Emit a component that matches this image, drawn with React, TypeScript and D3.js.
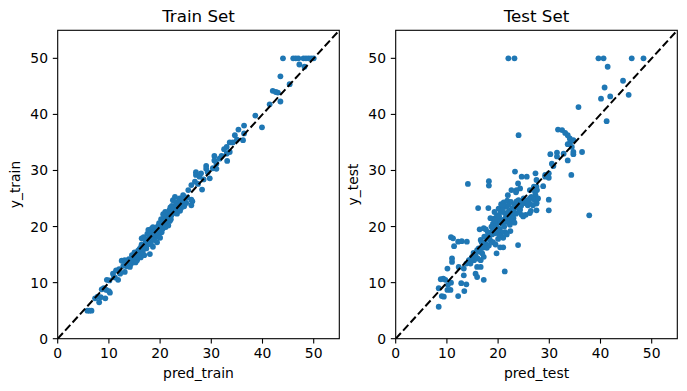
import React from 'react'
import * as d3 from 'd3'

const trainPoints: [number, number][] = [
  [5.8, 5.0], [6.2, 5.0], [6.6, 5.0], [7.3, 7.2], [7.8, 7.5], [8.1, 6.5], [8.4, 7.4], [9.3, 7.2],
  [8.6, 8.8], [9.0, 9.0], [9.5, 8.7], [10.2, 8.2], [10.0, 8.5], [9.6, 10.5], [10.1, 10.4],
  [10.8, 11.6], [11.2, 10.9], [11.8, 10.5], [11.4, 12.2], [12.0, 12.4], [11.0, 11.0],
  [12.5, 13.9], [13.1, 14.0], [13.1, 11.9], [13.7, 13.3], [14.1, 12.8], [14.3, 13.3], [14.6, 13.7],
  [14.0, 13.5], [14.8, 14.4], [15.0, 15.4], [15.3, 15.0], [15.5, 14.0], [15.8, 14.5], [16.2, 14.5],
  [16.4, 14.8], [16.0, 16.0], [16.4, 16.8], [16.4, 17.9], [16.8, 18.1], [15.2, 13.6], [14.5, 14.9],
  [13.5, 12.9], [12.8, 13.0], [15.7, 15.7], [16.6, 15.6], [17.0, 16.6], [17.2, 17.2], [16.9, 14.9],
  [17.5, 18.7], [17.7, 19.4], [18.3, 19.6], [18.6, 16.4], [18.0, 15.1], [17.8, 17.3], [18.1, 17.8],
  [18.4, 18.4], [18.8, 18.9], [18.6, 19.9], [19.0, 19.1], [19.2, 19.6], [19.5, 20.0], [19.2, 18.2],
  [19.6, 18.6], [19.9, 19.5], [20.1, 20.2], [20.3, 19.0], [20.5, 19.6], [20.2, 21.3], [20.7, 21.2],
  [20.9, 20.5], [21.1, 19.9], [20.0, 18.0], [19.4, 17.2], [18.9, 17.6], [17.3, 16.1], [18.2, 16.9],
  [21.3, 20.8], [21.5, 21.8], [21.6, 20.2], [20.6, 22.2], [21.0, 22.6], [21.4, 22.0],
  [21.8, 22.9], [22.0, 23.4], [22.3, 23.7], [22.2, 22.0], [22.6, 22.4], [22.9, 23.1], [22.5, 24.7],
  [22.9, 25.3], [23.2, 23.9], [23.5, 24.4], [23.8, 25.0], [24.2, 24.1], [23.9, 22.8], [23.3, 22.3],
  [24.5, 25.6], [24.8, 24.9], [24.1, 23.3], [24.7, 23.6], [25.1, 24.2], [25.5, 26.5], [26.1, 24.8],
  [26.3, 24.5], [26.1, 23.8], [25.3, 25.2], [22.1, 21.3], [21.9, 21.0],
  [12.2, 11.6], [13.4, 13.7], [13.9, 14.2], [14.4, 14.0], [14.9, 13.8], [15.4, 14.6], [15.9, 15.1],
  [16.1, 15.4], [16.7, 16.2], [17.4, 17.6], [17.6, 16.8], [17.9, 18.3], [18.2, 18.9], [18.5, 17.9],
  [18.7, 18.5], [19.1, 18.6], [19.3, 19.2], [19.7, 19.3], [19.8, 20.6], [20.4, 20.4], [20.6, 20.0],
  [20.8, 21.7], [21.2, 21.3], [21.7, 21.5], [22.0, 22.2], [22.4, 22.9], [22.7, 23.5], [23.0, 22.6],
  [23.4, 23.3], [23.7, 23.8], [24.0, 24.6], [24.4, 24.8], [16.3, 16.4], [15.1, 14.9], [14.2, 13.9],
  [17.1, 17.7], [19.5, 18.9], [21.0, 20.9], [23.1, 24.3], [24.6, 24.3],
  [26.1, 27.4], [26.8, 28.0], [27.0, 29.2], [27.0, 29.7], [27.7, 28.9], [28.0, 29.5], [28.2, 26.6],
  [27.4, 27.6], [28.5, 28.4], [29.0, 30.8], [29.0, 30.3], [29.7, 28.6], [29.3, 29.7], [30.6, 32.6],
  [30.6, 31.8], [31.0, 31.2], [31.0, 30.3], [31.6, 32.1], [30.3, 30.4], [32.0, 32.6], [33.0, 34.2],
  [33.6, 35.0], [34.2, 35.0], [33.6, 33.3], [33.0, 33.0], [33.1, 31.7], [32.5, 33.8], [34.6, 36.3],
  [35.3, 37.3], [36.4, 36.6], [36.2, 35.4], [36.4, 38.0], [35.0, 35.5],
  [38.6, 39.8], [39.9, 37.7], [41.4, 41.8], [42.0, 44.2], [42.6, 44.0], [43.5, 42.3], [43.5, 46.8],
  [45.3, 45.4], [44.0, 50], [46.0, 50], [46.5, 50], [47.0, 50], [48.0, 50], [48.5, 50], [49.0, 50],
  [49.5, 50], [50.0, 50], [47.2, 48.9], [48.2, 48.5], [43.0, 43.9],
]

const testPoints: [number, number][] = [
  [22.0, 50], [23.2, 50], [39.6, 50], [40.6, 50], [41.4, 48.5], [46.1, 50], [48.4, 50],
  [44.4, 46.0], [40.8, 44.8], [40.1, 42.8], [41.9, 43.2], [45.5, 43.5], [41.2, 38.8], [35.7, 41.3],
  [24.0, 36.3], [31.7, 37.3], [32.5, 37.2], [33.1, 36.7], [33.6, 36.3], [34.0, 35.7], [34.1, 35.1],
  [33.6, 34.7], [34.7, 35.4], [34.4, 34.2], [31.5, 33.2], [31.5, 32.5], [30.2, 32.9], [32.8, 33.0],
  [34.7, 32.9], [34.7, 33.3], [33.6, 31.8], [36.4, 33.3], [34.3, 29.2], [30.5, 31.2], [30.8, 30.8],
  [29.9, 29.5], [29.2, 28.9], [29.9, 28.7], [28.8, 27.2], [27.5, 28.3], [27.3, 29.5], [23.3, 29.8],
  [24.6, 28.9], [25.6, 28.9], [23.9, 27.7], [24.3, 26.8], [23.6, 26.5], [26.2, 26.5], [27.2, 26.2],
  [27.5, 27.1], [29.2, 29.2], [26.2, 22.4], [27.5, 22.9], [27.5, 24.1], [26.2, 24.1],
  [27.0, 27.1], [27.6, 26.5],
  [27.3, 25.6], [29.9, 24.8], [29.9, 22.9], [37.8, 22.0], [14.1, 27.6], [18.2, 28.1], [18.2, 27.3],
  [16.1, 23.3], [18.1, 23.3], [10.8, 18.1], [11.4, 16.5], [12.2, 17.3], [12.9, 17.4], [13.9, 17.3],
  [11.2, 17.9], [16.4, 19.5], [17.2, 19.7], [16.6, 17.6], [15.9, 12.8], [17.2, 10.5], [21.3, 12.0],
  [23.9, 16.7], [21.0, 16.3], [19.7, 15.2], [11.0, 14.3], [11.0, 13.7], [10.1, 12.5], [12.3, 12.8],
  [13.3, 11.3], [13.3, 12.5], [12.8, 9.9], [13.8, 9.7], [13.4, 8.5], [12.2, 7.6], [10.8, 10.0],
  [10.1, 8.7], [10.7, 8.7], [9.3, 10.7], [8.8, 10.6], [9.7, 10.5], [9.0, 7.6], [9.4, 7.5],
  [8.4, 9.0], [8.4, 5.7], [10.2, 9.6], [15.6, 11.6], [15.9, 11.0], [16.6, 12.8], [16.6, 14.0],
  [15.3, 14.0], [14.3, 14.0], [14.9, 14.6], [15.6, 14.9], [14.6, 13.4], [15.9, 15.8], [16.2, 16.1],
  [16.9, 15.2], [17.2, 14.6],
  [17.5, 17.0], [17.8, 18.0], [18.0, 19.0], [18.3, 18.3], [18.5, 17.5], [18.7, 20.0], [18.9, 19.2],
  [19.0, 20.5], [19.2, 21.4], [19.4, 18.8], [19.6, 19.9], [19.8, 22.0], [19.9, 20.8], [20.1, 23.2],
  [20.2, 21.8], [20.3, 19.6], [20.5, 22.6], [20.6, 24.0], [20.8, 20.5], [21.0, 21.2], [21.1, 24.3],
  [21.3, 22.4], [21.4, 19.0], [21.6, 23.5], [21.8, 24.6], [22.0, 21.7], [22.2, 22.8], [22.3, 20.3],
  [22.5, 24.4], [22.7, 23.2], [23.0, 21.5], [23.2, 24.0], [23.5, 22.3], [23.8, 23.4], [24.0, 24.7],
  [24.3, 23.0], [24.6, 22.1], [24.8, 24.4], [25.2, 24.2], [25.4, 22.1], [25.8, 23.8], [26.2, 25.0],
  [26.5, 25.3], [26.8, 23.8], [27.1, 24.8], [27.5, 24.3], [27.8, 25.0], [26.4, 22.8], [19.0, 17.2],
  [19.5, 16.8], [20.0, 17.8], [20.4, 16.3], [21.7, 18.6], [22.4, 19.2], [18.2, 16.6], [17.0, 16.2],
  [16.8, 17.2], [17.6, 19.5], [18.5, 21.5], [19.3, 22.6], [20.9, 23.7], [21.9, 25.6], [22.6, 26.5],
  [23.5, 26.1],
  [18.8, 18.6], [19.2, 19.7], [19.7, 20.3], [20.0, 21.0], [20.5, 20.9], [20.7, 19.0], [21.2, 20.0],
  [21.5, 21.6], [21.9, 22.5], [22.1, 23.9], [22.6, 21.1], [23.0, 22.9], [23.3, 23.6], [23.6, 24.5],
  [24.1, 22.6], [24.5, 23.7], [25.0, 25.0], [25.6, 24.6], [19.9, 19.0], [20.3, 18.4], [21.0, 18.0],
  [21.8, 20.8], [22.8, 22.0], [23.2, 20.7], [18.0, 17.9], [17.3, 18.2], [16.5, 15.5], [17.8, 16.2],
  [15.2, 15.3], [14.7, 14.2], [16.0, 14.3], [13.8, 13.4], [19.4, 21.1], [20.8, 22.9], [24.9, 21.8],
]

const ticks = [0, 10, 20, 30, 40, 50]
const domain: [number, number] = [0, 55]

const FONT = 'DejaVu Sans, sans-serif'

const Panel = ({ left, title, xLabel, yLabel, points }: {
  left: number; title: string; xLabel: string; yLabel: string; points: [number, number][]
}) => {
  const top = 30.3
  const w = 281.6
  const h = 308.4
  const x = d3.scaleLinear().domain(domain).range([left, left + w])
  const y = d3.scaleLinear().domain(domain).range([top + h, top])
  const clipId = 'clip-' + title.replace(' ', '')
  const diag = d3.line<number>().x(d => x(d)).y(d => y(d))([0, 55])

  return (
    <g>
      <defs>
        <clipPath id={clipId}>
          <rect x={left} y={top} width={w} height={h} />
        </clipPath>
      </defs>
      <g clipPath={`url(#${clipId})`}>
        {points.map((p, i) => (
          <circle key={i} cx={x(p[0])} cy={y(p[1])} r={2.9} fill="#1f77b4" />
        ))}
        <path d={diag || ''} stroke="#000" strokeWidth={2} strokeDasharray="7.7 3.3" fill="none" />
      </g>
      <rect x={left} y={top} width={w} height={h} fill="none" stroke="#000" strokeWidth={1.1} />
      {ticks.map(t => (
        <g key={'x' + t}>
          <line x1={x(t)} x2={x(t)} y1={top + h} y2={top + h + 4.9} stroke="#000" strokeWidth={1.1} />
          <text x={x(t)} y={top + h + 19} textAnchor="middle" fontSize={13.9} fontFamily={FONT}>{t}</text>
        </g>
      ))}
      {ticks.map(t => (
        <g key={'y' + t}>
          <line x1={left - 4.9} x2={left} y1={y(t)} y2={y(t)} stroke="#000" strokeWidth={1.1} />
          <text x={left - 9.7} y={y(t) + 5} textAnchor="end" fontSize={13.9} fontFamily={FONT}>{t}</text>
        </g>
      ))}
      <text x={left + w / 2} y={22} textAnchor="middle" fontSize={16.7} fontFamily={FONT}>{title}</text>
      <text x={left + w / 2} y={378} textAnchor="middle" fontSize={13.9} fontFamily={FONT}>{xLabel}</text>
      <text transform={`translate(${left - 37.5},${top + h / 2}) rotate(-90)`} textAnchor="middle"
        fontSize={13.9} fontFamily={FONT}>{yLabel}</text>
    </g>
  )
}

export default function App() {
  return (
    <svg width={687} height={391} style={{ position: 'absolute', left: 0, top: 0, background: '#fff' }}>
      <Panel left={57.7} title="Train Set" xLabel="pred_train" yLabel="y_train" points={trainPoints} />
      <Panel left={395.7} title="Test Set" xLabel="pred_test" yLabel="y_test" points={testPoints} />
    </svg>
  )
}
